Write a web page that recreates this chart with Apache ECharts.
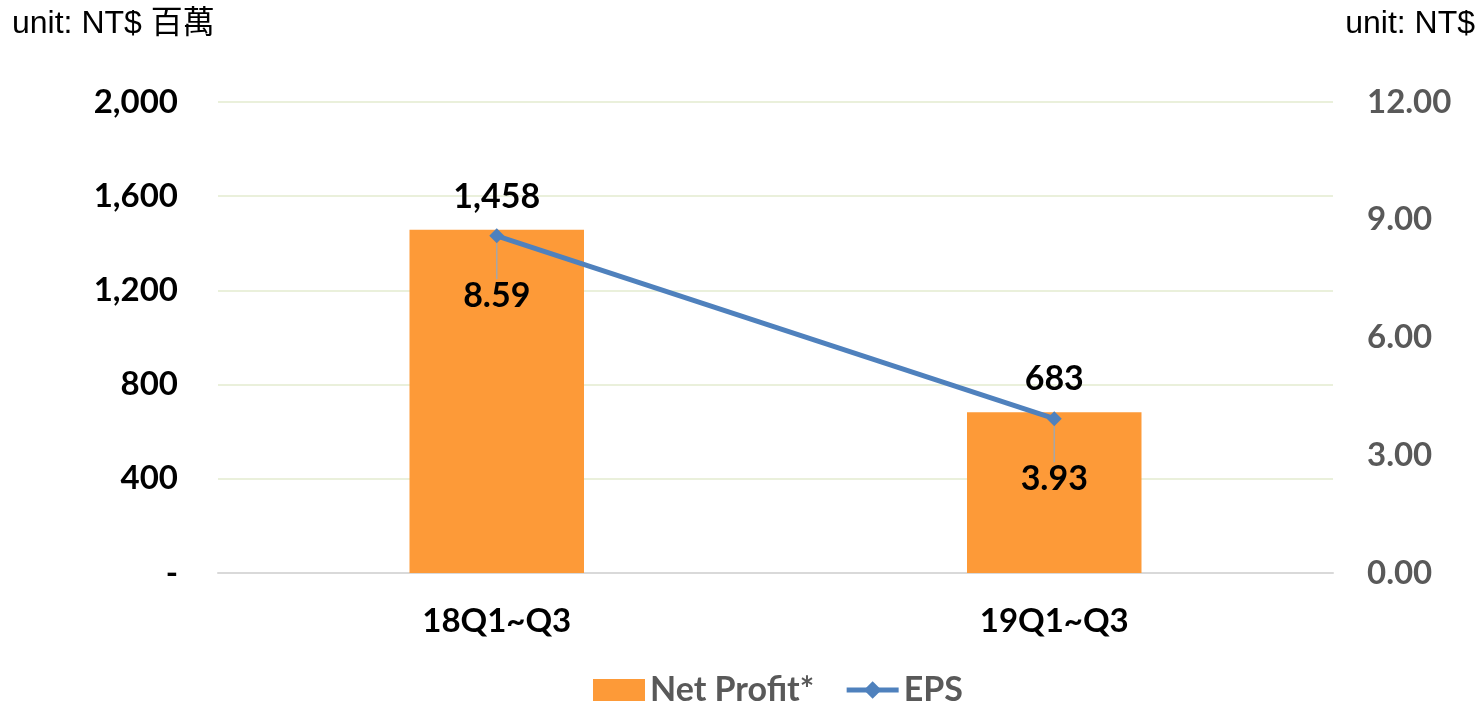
<!DOCTYPE html>
<html>
<head>
<meta charset="utf-8">
<script src="https://cdn.jsdelivr.net/npm/echarts@6/dist/echarts.min.js"></script>
<style>
html,body{margin:0;padding:0;background:#fff;}
#c{width:1477px;height:704px;}
</style>
</head>
<body>
<div id="c"></div>
<script>
const categories = ['18Q1~Q3', '19Q1~Q3'];
const netProfit = [1458, 683];
const eps = [8.59, 3.93];
const leftTicks = { min: 0, max: 2000, interval: 400 };
const rightTicks = { min: 0, max: 12, interval: 3 };

const bold = 'Lato';
const chart = echarts.init(document.getElementById('c'));
chart.setOption({
  backgroundColor: '#ffffff',
  animation: false,
  graphic: [
    { type: 'text', left: 12, top: 8, style: { text: 'unit: NT$ 百萬', font: '32px "Liberation Sans", "Noto Sans CJK TC", sans-serif', fill: '#000' } },
    { type: 'text', right: 2, top: 8, style: { text: 'unit: NT$', font: '32px "Liberation Sans", sans-serif', fill: '#000' } }
  ],
  grid: { left: 218, right: 144, top: 102, bottom: 131, containLabel: false },
  legend: {
    bottom: -3, left: 593, padding: 0,
    itemWidth: 52, itemHeight: 22, itemGap: 30,
    textStyle: { fontFamily: bold, fontWeight: 'bold', fontSize: 34, color: '#595959' },
    data: [
      { name: 'Net Profit*', icon: 'rect' },
      { name: 'EPS', lineStyle: { width: 5 } }
    ]
  },
  xAxis: {
    type: 'category', data: categories,
    axisTick: { show: false },
    axisLine: { lineStyle: { color: '#d9d9d9', width: 2 } },
    axisLabel: { fontFamily: bold, fontWeight: 'bold', fontSize: 33, color: '#000', margin: 32 }
  },
  yAxis: [
    {
      type: 'value', min: leftTicks.min, max: leftTicks.max, interval: leftTicks.interval,
      axisLine: { show: false }, axisTick: { show: false },
      splitLine: { lineStyle: { color: '#e3ebcf', width: 1.5 } },
      axisLabel: {
        fontFamily: bold, fontWeight: 'bold', fontSize: 33, color: '#000', margin: 40,
        formatter: v => v === 0 ? '-' : v.toLocaleString('en-US')
      }
    },
    {
      type: 'value', min: rightTicks.min, max: rightTicks.max, interval: rightTicks.interval,
      axisLine: { show: false }, axisTick: { show: false }, splitLine: { show: false },
      axisLabel: {
        fontFamily: bold, fontWeight: 'bold', fontSize: 33, color: '#595959', margin: 34,
        formatter: v => v.toFixed(2)
      }
    }
  ],
  series: [
    {
      name: 'Net Profit*', type: 'bar', yAxisIndex: 0, data: netProfit,
      barWidth: '31.3%',
      itemStyle: { color: '#fd9a38' },
      label: {
        show: true, position: 'top', distance: 16,
        fontFamily: bold, fontWeight: 'bold', fontSize: 34, color: '#000',
        formatter: p => p.value.toLocaleString('en-US')
      }
    },
    {
      name: 'EPS', type: 'line', yAxisIndex: 1, data: eps,
      symbol: 'diamond', symbolSize: 15,
      lineStyle: { color: '#4f81bd', width: 5 },
      itemStyle: { color: '#4f81bd' },
      label: {
        show: true, position: 'bottom', distance: 4,
        fontFamily: bold, fontWeight: 'bold', fontSize: 34, color: '#000',
        formatter: p => p.value.toFixed(2)
      },
      labelLayout: { dy: 32 },
      labelLine: { show: true, lineStyle: { color: '#a6a6a6', width: 1.5 } }
    }
  ]
});
</script>
</body>
</html>
